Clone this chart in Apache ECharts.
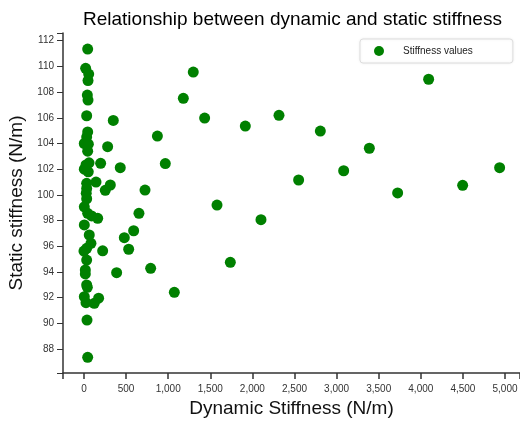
<!DOCTYPE html>
<html>
<head>
<meta charset="utf-8">
<script src="https://cdn.jsdelivr.net/npm/echarts@6/dist/echarts.min.js"></script>
<style>
  html, body { margin: 0; padding: 0; background: #fff; }
  #chart { width: 520px; height: 421px; }
</style>
</head>
<body>
<div id="chart"></div>
<script>
// dynamic stiffness (N/m)
const dynamicStiffness = [
  // cluster near zero
  44, 20, 56, 48, 40, 48, 32, 44, 32, 4, 52, 44, 24, 60, 4, 51, 32, 32, 27, 32,
  4, 44, 4, 63, 83, 32, 0, 32, 16, 16, 32, 40, 4, 24, 36, 44,
  // mid range
  348, 281, 198, 431, 143, 313, 253, 725, 653, 590, 479, 531, 222, 792, 388, 174, 122, 163, 91,
  // far points
  1298, 1180, 1433, 1916, 2316, 2807, 3389, 4093, 3084, 2549, 3725, 4497, 4936, 1580, 2102, 1738, 1073, 966, 872
];

// static stiffness (N/m)
const staticStiffness = [
  111.35, 109.85, 109.4, 108.9, 107.77, 107.38, 106.16, 104.9, 104.5, 104.0, 103.95, 103.4, 102.33, 102.5, 102.0, 101.8, 100.9, 100.5, 100.12, 99.7,
  99.07, 98.57, 97.66, 96.88, 96.23, 95.84, 95.63, 94.93, 94.16, 93.85, 92.99, 92.81, 92.08, 91.61, 90.26, 87.36,
  105.8, 103.75, 102.46, 102.12, 101.0, 100.77, 100.36, 100.38, 98.57, 97.21, 96.67, 95.77, 95.65, 94.29, 93.95, 91.96, 91.56, 98.18, 98.36,
  109.56, 107.52, 105.98, 105.36, 106.19, 104.97, 103.63, 109.0, 101.88, 101.16, 100.15, 100.75, 102.12, 99.21, 98.07, 94.75, 92.42, 102.44, 104.58
];

const xTicks = [0, 500, 1000, 1500, 2000, 2500, 3000, 3500, 4000, 4500, 5000];
const yTicks = [88, 90, 92, 94, 96, 98, 100, 102, 104, 106, 108, 110, 112];

// axis domains (padded a bit around the data)
const xMin = -249, xMax = 5178;
const yMin = 86.14, yMax = 112.6;

const points = dynamicStiffness.map((d, i) => [d, staticStiffness[i]]);

const FONT = "Arial, 'Liberation Sans', sans-serif";
const chart = echarts.init(document.getElementById("chart"));

chart.setOption({
  animation: false,
  title: {
    text: "Relationship between dynamic and static stiffness",
    left: 78,
    top: 5,
    textStyle: {
      fontFamily: FONT,
      fontSize: 19,
      fontWeight: "normal",
      color: "#000",
    },
  },
  legend: {
    data: ["Stiffness values"],
    left: 360,
    top: 39,
    padding: [7, 40, 7, 14],
    itemWidth: 10,
    itemHeight: 10,
    borderColor: "#dddddd",
    borderWidth: 1,
    borderRadius: 3,
    shadowBlur: 3,
    shadowColor: "rgba(0,0,0,0.08)",
    backgroundColor: "#fff",
    textStyle: {
      fontFamily: FONT,
      fontSize: 10,
      color: "#222",
      padding: [0, 0, 0, 14],
    },
  },
  grid: {
    left: 63,
    right: 0,
    top: 33,
    bottom: 48,
    containLabel: false,
    outerBoundsMode: "none",
  },
  xAxis: {
    type: "value",
    min: xMin,
    max: xMax,
    name: "Dynamic Stiffness (N/m)",
    nameLocation: "middle",
    nameGap: 26,
    nameTextStyle: { fontFamily: FONT, fontSize: 19, color: "#111" },
    splitLine: { show: false },
    axisLine: { show: true, onZero: false, lineStyle: { color: "#333", width: 1.5 } },
    axisTick: {
      show: true,
      length: 6,
      customValues: [xMin, ...xTicks, xMax],
      lineStyle: { color: "#333", width: 1.5 },
    },
    axisLabel: {
      customValues: xTicks,
      margin: 11,
      fontFamily: FONT,
      fontSize: 10,
      color: "#333",
      formatter: (v) => v.toLocaleString("en-US"),
    },
  },
  yAxis: {
    type: "value",
    min: yMin,
    max: yMax,
    name: "Static stiffness (N/m)",
    nameLocation: "middle",
    nameGap: 35,
    nameTextStyle: { fontFamily: FONT, fontSize: 19, color: "#111" },
    splitLine: { show: false },
    axisLine: { show: true, onZero: false, lineStyle: { color: "#333", width: 1.5 } },
    axisTick: {
      show: true,
      length: 6,
      customValues: [yMin, ...yTicks, yMax],
      lineStyle: { color: "#333", width: 1 },
    },
    axisLabel: {
      customValues: yTicks,
      margin: 9,
      fontFamily: FONT,
      fontSize: 10,
      color: "#333",
    },
  },
  series: [
    {
      name: "Stiffness values",
      type: "scatter",
      symbol: "circle",
      symbolSize: 11,
      itemStyle: { color: "#008000", opacity: 1 },
      data: points,
    },
  ],
});
</script>
</body>
</html>
